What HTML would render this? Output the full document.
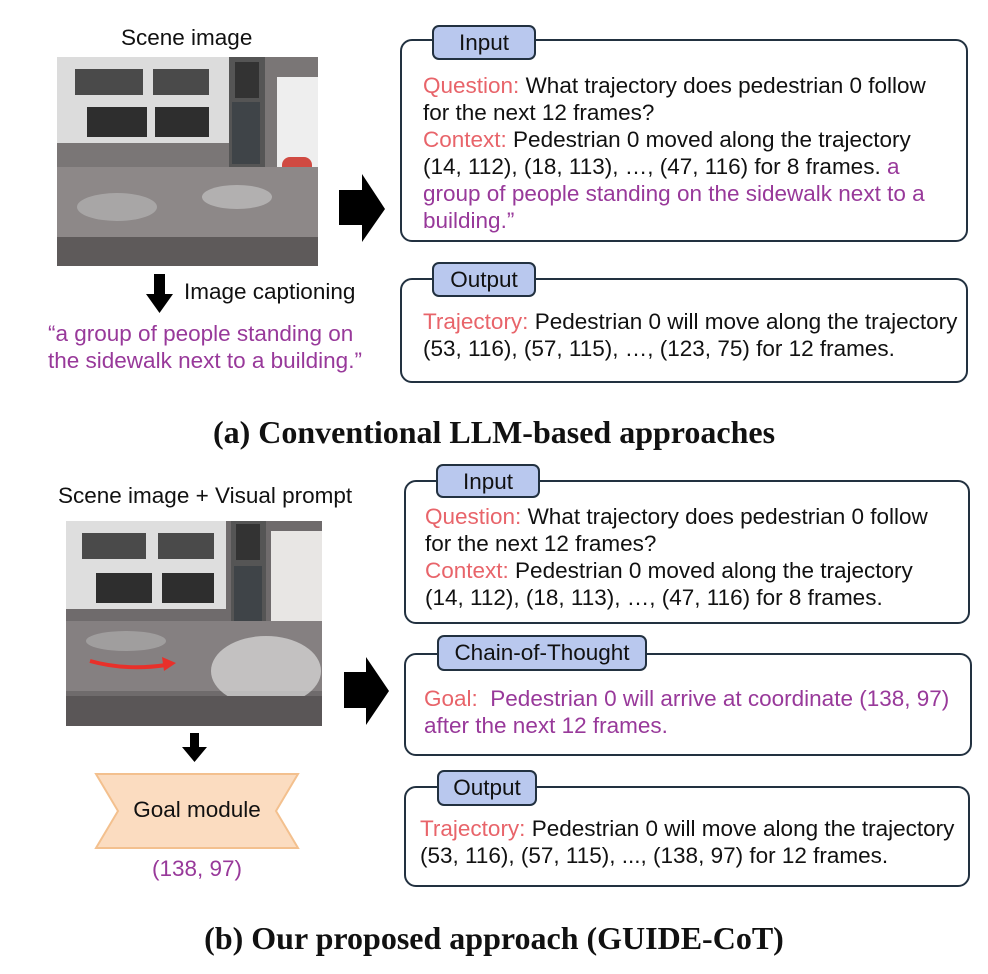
<!DOCTYPE html>
<html><head><meta charset="utf-8"><style>
body{margin:0;background:#fff;width:988px;height:974px;position:relative;overflow:hidden;font-family:"Liberation Sans",sans-serif;color:#111}
.a{position:absolute}
.box{position:absolute;border:2px solid #223140;border-radius:12px;box-sizing:border-box;background:#fff}
.tab{position:absolute;background:#b9c8ee;border:2px solid #223140;border-radius:7px;box-sizing:border-box;font-size:22.5px;text-align:center;line-height:31px}
.t{position:absolute;font-size:22.5px;line-height:27px;white-space:nowrap}
.r{color:#e8646a}.p{color:#98399a}
.cap{position:absolute;width:988px;text-align:center;font-family:"Liberation Serif",serif;font-weight:bold;font-size:32px}
</style></head><body>
<div class="t" style="left:121px;top:24px">Scene image</div>
<svg class="a" style="left:57px;top:57px" width="261" height="209">
<rect width="261" height="209" fill="#7a7676"/>
<rect x="0" y="0" width="172" height="86" fill="#dcdcdc"/>
<rect x="18" y="12" width="68" height="26" fill="#4a4a4a"/><rect x="96" y="12" width="56" height="26" fill="#4a4a4a"/>
<rect x="30" y="50" width="60" height="30" fill="#2e2e2e"/><rect x="98" y="50" width="54" height="30" fill="#2e2e2e"/>
<rect x="172" y="0" width="36" height="110" fill="#555"/>
<rect x="178" y="5" width="24" height="36" fill="#333"/><rect x="175" y="45" width="28" height="62" fill="#3f4448"/>
<rect x="220" y="20" width="41" height="100" fill="#eee"/>
<rect x="225" y="100" width="30" height="72" rx="8" fill="#d04a42"/>
<rect x="0" y="110" width="261" height="70" fill="#8d8888"/>
<rect x="0" y="180" width="261" height="29" fill="#5e5a5a"/>
<ellipse cx="60" cy="150" rx="40" ry="14" fill="#bbb" opacity=".6"/><ellipse cx="180" cy="140" rx="35" ry="12" fill="#ccc" opacity=".6"/>
</svg>
<svg class="a" style="left:145px;top:274px" width="30" height="40"><polygon points="9,0 20,0 20,20 28,20 14.5,39 1,20 9,20" fill="#000"/></svg>
<div class="t" style="left:184px;top:278px">Image captioning</div>
<div class="t p" style="left:48px;top:320px">“a group of people standing on</div>
<div class="t p" style="left:48px;top:347px">the sidewalk next to a building.”</div>
<svg class="a" style="left:338px;top:172px" width="50" height="72"><polygon points="1,18 24,18 24,2 47,37 24,70 24,53 1,53" fill="#000"/></svg>
<div class="box" style="left:400px;top:39px;width:568px;height:203px"></div>
<div class="tab" style="left:432px;top:25px;width:104px;height:35px">Input</div>
<div class="t" style="left:423px;top:72px"><span class="r">Question:</span> What trajectory does pedestrian 0 follow</div>
<div class="t" style="left:423px;top:99px">for the next 12 frames?</div>
<div class="t" style="left:423px;top:126px"><span class="r">Context:</span> Pedestrian 0 moved along the trajectory</div>
<div class="t" style="left:423px;top:153px">(14, 112), (18, 113), …, (47, 116) for 8 frames. <span class="p">a</span></div>
<div class="t p" style="left:423px;top:180px">group of people standing on the sidewalk next to a</div>
<div class="t p" style="left:423px;top:207px">building.”</div>
<div class="box" style="left:400px;top:278px;width:568px;height:105px"></div>
<div class="tab" style="left:432px;top:262px;width:104px;height:35px">Output</div>
<div class="t" style="left:423px;top:308px"><span class="r">Trajectory:</span> Pedestrian 0 will move along the trajectory</div>
<div class="t" style="left:423px;top:335px">(53, 116), (57, 115), …, (123, 75) for 12 frames.</div>
<div class="cap" style="top:414px">(a) Conventional LLM-based approaches</div>
<div class="t" style="left:58px;top:482px">Scene image + Visual prompt</div>
<svg class="a" style="left:66px;top:521px" width="256" height="205">
<rect width="256" height="205" fill="#6f6b6c"/>
<rect x="0" y="0" width="160" height="88" fill="#dedede"/>
<rect x="16" y="12" width="64" height="26" fill="#4a4a4a"/><rect x="92" y="12" width="56" height="26" fill="#4a4a4a"/>
<rect x="30" y="52" width="56" height="30" fill="#2e2e2e"/><rect x="96" y="52" width="52" height="30" fill="#2e2e2e"/>
<rect x="165" y="0" width="35" height="110" fill="#555"/>
<rect x="170" y="3" width="24" height="36" fill="#333"/><rect x="168" y="45" width="28" height="62" fill="#3f4448"/>
<rect x="205" y="10" width="51" height="140" fill="#e8e6e4"/>
<rect x="0" y="100" width="256" height="70" fill="#858081"/>
<ellipse cx="200" cy="150" rx="55" ry="35" fill="#ddd" opacity=".7"/>
<ellipse cx="60" cy="120" rx="40" ry="10" fill="#bbb" opacity=".5"/>
<rect x="0" y="175" width="256" height="30" fill="#5a5657"/>
<path d="M24,140 Q60,150 100,144" stroke="#e8302a" stroke-width="4" fill="none"/>
<polygon points="110,142 96,136 98,150" fill="#e8302a"/>
</svg>
<svg class="a" style="left:179px;top:733px" width="32" height="30"><polygon points="11,0 20,0 20,14 28,14 15.5,29 3,14 11,14" fill="#000"/></svg>
<svg class="a" style="left:94px;top:772px" width="206" height="78"><polygon points="2,2 204,2 182,39 204,76 2,76 24,39" fill="#fbdcc0" stroke="#f3c08e" stroke-width="2"/></svg>
<div class="t" style="left:94px;top:796px;width:206px;text-align:center">Goal module</div>
<div class="t p" style="left:94px;top:855px;width:206px;text-align:center">(138, 97)</div>
<svg class="a" style="left:342px;top:655px" width="50" height="72"><polygon points="2,17 24,17 24,2 47,36 24,70 24,53 2,53" fill="#000"/></svg>
<div class="box" style="left:404px;top:480px;width:566px;height:144px"></div>
<div class="tab" style="left:436px;top:464px;width:104px;height:34px">Input</div>
<div class="t" style="left:425px;top:503px"><span class="r">Question:</span> What trajectory does pedestrian 0 follow</div>
<div class="t" style="left:425px;top:530px">for the next 12 frames?</div>
<div class="t" style="left:425px;top:557px"><span class="r">Context:</span> Pedestrian 0 moved along the trajectory</div>
<div class="t" style="left:425px;top:584px">(14, 112), (18, 113), …, (47, 116) for 8 frames.</div>
<div class="box" style="left:404px;top:653px;width:568px;height:103px"></div>
<div class="tab" style="left:437px;top:635px;width:210px;height:36px">Chain-of-Thought</div>
<div class="t p" style="left:424px;top:685px"><span class="r">Goal:</span>&nbsp; Pedestrian 0 will arrive at coordinate (138, 97)</div>
<div class="t p" style="left:424px;top:712px">after the next 12 frames.</div>
<div class="box" style="left:404px;top:786px;width:566px;height:101px"></div>
<div class="tab" style="left:437px;top:770px;width:100px;height:36px">Output</div>
<div class="t" style="left:420px;top:815px"><span class="r">Trajectory:</span> Pedestrian 0 will move along the trajectory</div>
<div class="t" style="left:420px;top:842px">(53, 116), (57, 115), ..., (138, 97) for 12 frames.</div>
<div class="cap" style="top:920px">(b) Our proposed approach (GUIDE-CoT)</div>
</body></html>
